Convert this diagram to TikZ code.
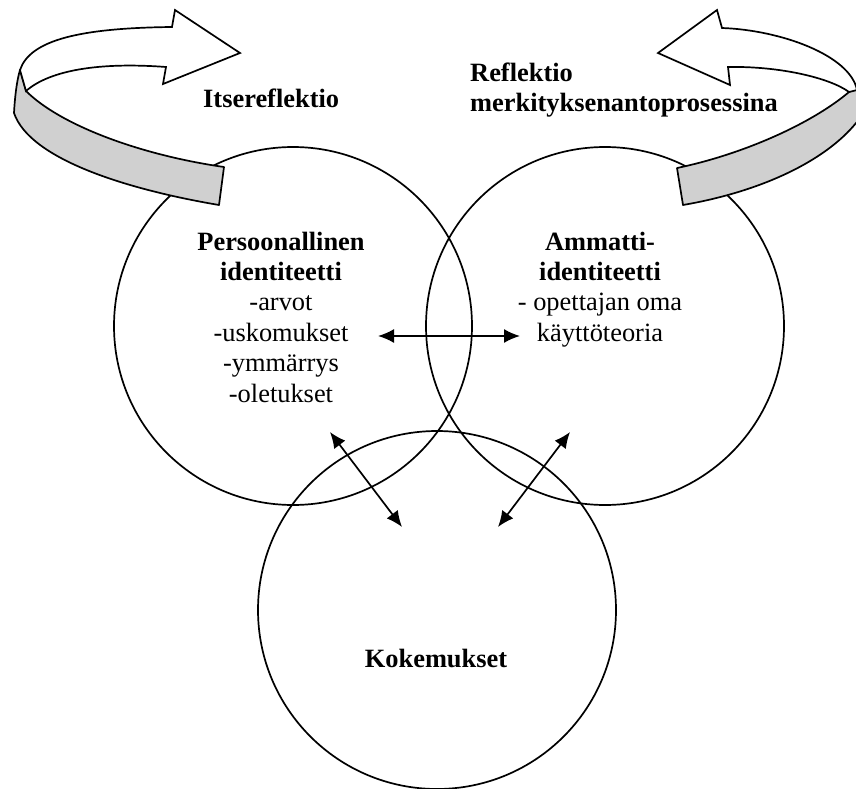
\documentclass[tikz,border=0pt]{standalone}
\usepackage{fontspec}
\setmainfont{Liberation Serif}
\usetikzlibrary{arrows.meta}
\definecolor{bandgray}{RGB}{208,208,208}
\tikzset{
  ring/.style={draw, circle, minimum size=358pt, inner sep=0pt, line width=1.7pt},
  lbl/.style={inner sep=0pt, anchor=base, font=\fontsize{26.4}{30.4}\selectfont},
  blbl/.style={inner sep=0pt, anchor=base, font=\fontsize{26.4}{30.4}\selectfont\bfseries},
  band/.style={draw, line width=1.7pt, fill=bandgray, line join=round},
  face/.style={draw, line width=1.7pt, fill=white, line join=miter},
  dbl/.style={line width=1.7pt, {Latex[length=16pt,width=14pt]}-{Latex[length=16pt,width=14pt]}}
}
\begin{document}
\begin{tikzpicture}[x=1pt,y=-1pt]
\useasboundingbox (0,0) rectangle (856,789);
\clip (0,0) rectangle (856,789);
% circles
\node[ring] (P) at (293,326) {};
\node[ring] (A) at (605,326) {};
\node[ring] (K) at (437,610) {};
% left curved ribbon arrow
\path[band] (20,70) -- (26,91) .. controls (60,125) and (140,155) .. (224,167)
  -- (219,205) .. controls (130,190) and (30,160) .. (14,113)
  .. controls (15,95) and (17,80) .. (20,70) -- cycle;
\path[face] (20,70) .. controls (30,40) and (80,28) .. (172,27)
  -- (175,10) -- (240,53) -- (163,84) -- (166,67)
  .. controls (100,62) and (50,70) .. (26,91) -- cycle;
% right curved ribbon arrow
\path[band] (849,92) .. controls (810,125) and (740,155) .. (677,168)
  -- (683,205) .. controls (770,190) and (835,155) .. (862,115)
  -- (862,85) -- cycle;
\path[face] (722,28) .. controls (780,30) and (850,55) .. (857,90)
  -- (849,92) .. controls (830,78) and (780,66) .. (728,67)
  -- (730,85) -- (658,53) -- (717,10) -- cycle;
% labels
\node[blbl, anchor=base west] (itse) at (203,107) {Itsereflektio};
\node[blbl, anchor=base west] (refl1) at (470,82) {Reflektio};
\node[blbl, anchor=base west] (refl2) at (470,112) {merkityksenantoprosessina};
\node[blbl] (p1) at (281,250) {Persoonallinen};
\node[blbl] (p2) at (281,280.4) {identiteetti};
\node[lbl] (p3) at (281,310.8) {-arvot};
\node[lbl] (p4) at (281,341.2) {-uskomukset};
\node[lbl] (p5) at (281,371.6) {-ymmärrys};
\node[lbl] (p6) at (281,402) {-oletukset};
\node[blbl] (a1) at (600,250) {Ammatti-};
\node[blbl] (a2) at (600,280.4) {identiteetti};
\node[lbl] (a3) at (600,310.8) {- opettajan oma};
\node[lbl] (a4) at (600,341.2) {käyttöteoria};
\node[blbl] (k1) at (436,667) {Kokemukset};
% arrows
\coordinate (h1) at (378,336);
\coordinate (h2) at (520,336);
\coordinate (l1) at (330,432);
\coordinate (l2) at (402,527);
\coordinate (r1) at (570,432);
\coordinate (r2) at (498,527);
\draw[dbl] (h1) -- (h2);
\draw[dbl] (l1) -- (l2);
\draw[dbl] (r1) -- (r2);
\end{tikzpicture}
\end{document}
